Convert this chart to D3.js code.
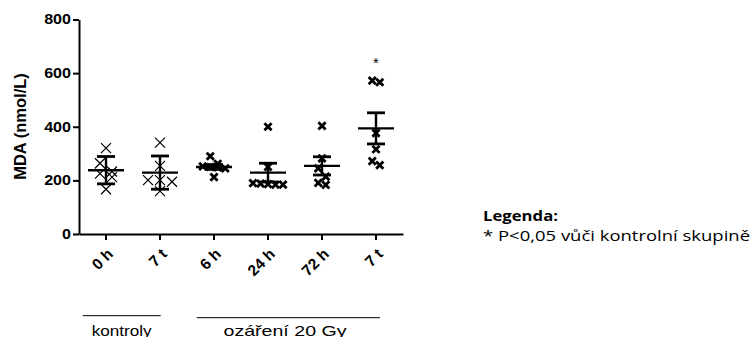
<!DOCTYPE html>
<html>
<head>
<meta charset="utf-8">
<script src="https://cdn.jsdelivr.net/npm/d3@7"></script>
<style>
  body { margin: 0; background: #fff; }
  svg { display: block; }
</style>
</head>
<body>
<svg width="756" height="337"></svg>
<script>
// data
const categories = ["0 h", "7 t", "6 h", "24 h", "72 h", "7 t "];
const controlGroups = ["0 h", "7 t"]; // thin crosses
const ctrl0h = [320, 264, 233, 225, 212, 167];
const ctrl7t = [341, 254, 201, 201, 195, 160];
const irr6h = [290, 262, 252, 250, 248, 245, 212];
const irr24h = [400, 250, 190, 188, 186, 184, 184];
const irr72h = [403, 282, 245, 214, 191, 183];
const irr7t = [572, 566, 376, 316, 272, 257];
const means = [238, 229, 250, 229, 254, 394];
const errors = [51, 62, 9, 35, 34, 58];
const yTicks = [0, 200, 400, 600, 800];
const significant = ["7 t "];

const groupValues = [ctrl0h, ctrl7t, irr6h, irr24h, irr72h, irr7t];

const svg = d3.select("svg");
const plotLeft = 79, plotRight = 403, plotTop = 19.5, plotBottom = 234;
const font = "Liberation Sans, Arial, sans-serif";

const x = d3.scaleBand()
  .domain(categories)
  .range([plotLeft, plotRight]);

const y = d3.scaleLinear()
  .domain([0, 800])
  .range([plotBottom, plotTop]);

// Y axis
const yAxis = svg.append("g")
  .attr("transform", `translate(${plotLeft},0)`)
  .call(d3.axisLeft(y).tickValues(yTicks).tickSize(6).tickSizeOuter(0).tickPadding(2));
yAxis.select(".domain").attr("stroke", "#000").attr("stroke-width", 2);
yAxis.selectAll(".tick line").attr("stroke", "#000").attr("stroke-width", 2);
yAxis.selectAll("text")
  .attr("font-family", font)
  .attr("font-weight", "bold")
  .attr("font-size", "14px")
  .attr("fill", "#000")
  .attr("x", -8 / 1.15)
  .attr("transform", "scale(1.15,1)");

// X axis
const xAxis = svg.append("g")
  .attr("transform", `translate(0,${plotBottom})`)
  .call(d3.axisBottom(x).tickSize(6).tickSizeOuter(0));
xAxis.select(".domain").attr("stroke", "#000").attr("stroke-width", 2);
xAxis.selectAll(".tick line").attr("stroke", "#000").attr("stroke-width", 2);
xAxis.selectAll("text")
  .attr("font-family", font)
  .attr("font-weight", "bold")
  .attr("font-size", "15.5px")
  .attr("fill", "#000")
  .attr("text-anchor", "end")
  .attr("x", 0)
  .attr("y", 0)
  .attr("dy", 0)
  .attr("transform", "translate(8,21) rotate(-45)");

// Y label
svg.append("text")
  .attr("transform", `translate(26,126.5) rotate(-90)`)
  .attr("text-anchor", "middle")
  .attr("font-family", font)
  .attr("font-weight", "bold")
  .attr("font-size", "16.5px")
  .text("MDA (nmol/L)");

// GraphPad-like spread: points with close values go into one row, centred
function spreadRows(vals, spacing) {
  const sorted = vals.slice().sort((a, b) => b - a);
  const rows = [];
  sorted.forEach(v => {
    const last = rows[rows.length - 1];
    if (last && y(v) - y(last[0]) < 9) last.push(v);
    else rows.push([v]);
  });
  const out = [];
  rows.forEach(r => r.forEach((v, k) => {
    out.push({v: v, py: y(v), dx: (k - (r.length - 1) / 2) * spacing});
  }));
  return out;
}

const crossPath = r => `M${-r},${-r}L${r},${r}M${-r},${r}L${r},${-r}`;

categories.forEach((c, i) => {
  const cx = x(c) + x.bandwidth() / 2;
  const thin = controlGroups.includes(c);
  const g = svg.append("g");

  g.selectAll("path.pt")
    .data(spreadRows(groupValues[i], thin ? 12 : 7.5))
    .enter().append("path")
    .attr("class", "pt")
    .attr("transform", d => `translate(${cx + d.dx},${d.py})`)
    .attr("d", thin ? crossPath(5) : crossPath(3.6))
    .attr("stroke", "#000")
    .attr("stroke-width", thin ? 1.2 : 2.8)
    .attr("fill", "none");

  // mean line
  g.append("line")
    .attr("x1", cx - 18).attr("x2", cx + 18)
    .attr("y1", y(means[i])).attr("y2", y(means[i]))
    .attr("stroke", "#000").attr("stroke-width", 2.4);
  // error bar
  g.append("line")
    .attr("x1", cx).attr("x2", cx)
    .attr("y1", y(means[i] + errors[i])).attr("y2", y(means[i] - errors[i]))
    .attr("stroke", "#000").attr("stroke-width", 2.4);
  [means[i] + errors[i], means[i] - errors[i]].forEach(v => {
    g.append("line")
      .attr("x1", cx - 9).attr("x2", cx + 9)
      .attr("y1", y(v)).attr("y2", y(v))
      .attr("stroke", "#000").attr("stroke-width", 2.8);
  });

  if (significant.includes(c)) {
    g.append("text")
      .attr("x", cx)
      .attr("y", y(d3.max(groupValues[i])) - 13)
      .attr("text-anchor", "middle")
      .attr("font-family", font)
      .attr("font-size", "15px")
      .attr("fill", "#000")
      .text("*");
  }
});

// group brackets
const brackets = [
  {label: "kontroly", x1: 82.7, x2: 160.7, y: 315.7, tx: 121.7, len: 60},
  {label: "ozáření 20 Gy", x1: 196.7, x2: 380, y: 317.7, tx: 285, len: 123}
];
brackets.forEach(b => {
  svg.append("line")
    .attr("x1", b.x1).attr("x2", b.x2)
    .attr("y1", b.y).attr("y2", b.y)
    .attr("stroke", "#000").attr("stroke-width", 1);
  svg.append("text")
    .attr("x", b.tx - b.len / 2)
    .attr("y", 336)
    .attr("font-family", font)
    .attr("font-size", "14.5px")
    .attr("textLength", b.len)
    .attr("lengthAdjust", "spacingAndGlyphs")
    .text(b.label);
});

// legend
svg.append("text")
  .attr("x", 483).attr("y", 221)
  .attr("font-family", "Open Sans, sans-serif")
  .attr("font-weight", "bold")
  .attr("font-size", "14px")
  .attr("textLength", 75)
  .attr("lengthAdjust", "spacingAndGlyphs")
  .text("Legenda:");
svg.append("text")
  .attr("x", 483).attr("y", 241)
  .attr("font-family", "Open Sans, sans-serif")
  .attr("font-size", "14px")
  .attr("textLength", 267)
  .attr("lengthAdjust", "spacingAndGlyphs")
  .text("* P<0,05 vůči kontrolní skupině");
</script>
</body>
</html>
